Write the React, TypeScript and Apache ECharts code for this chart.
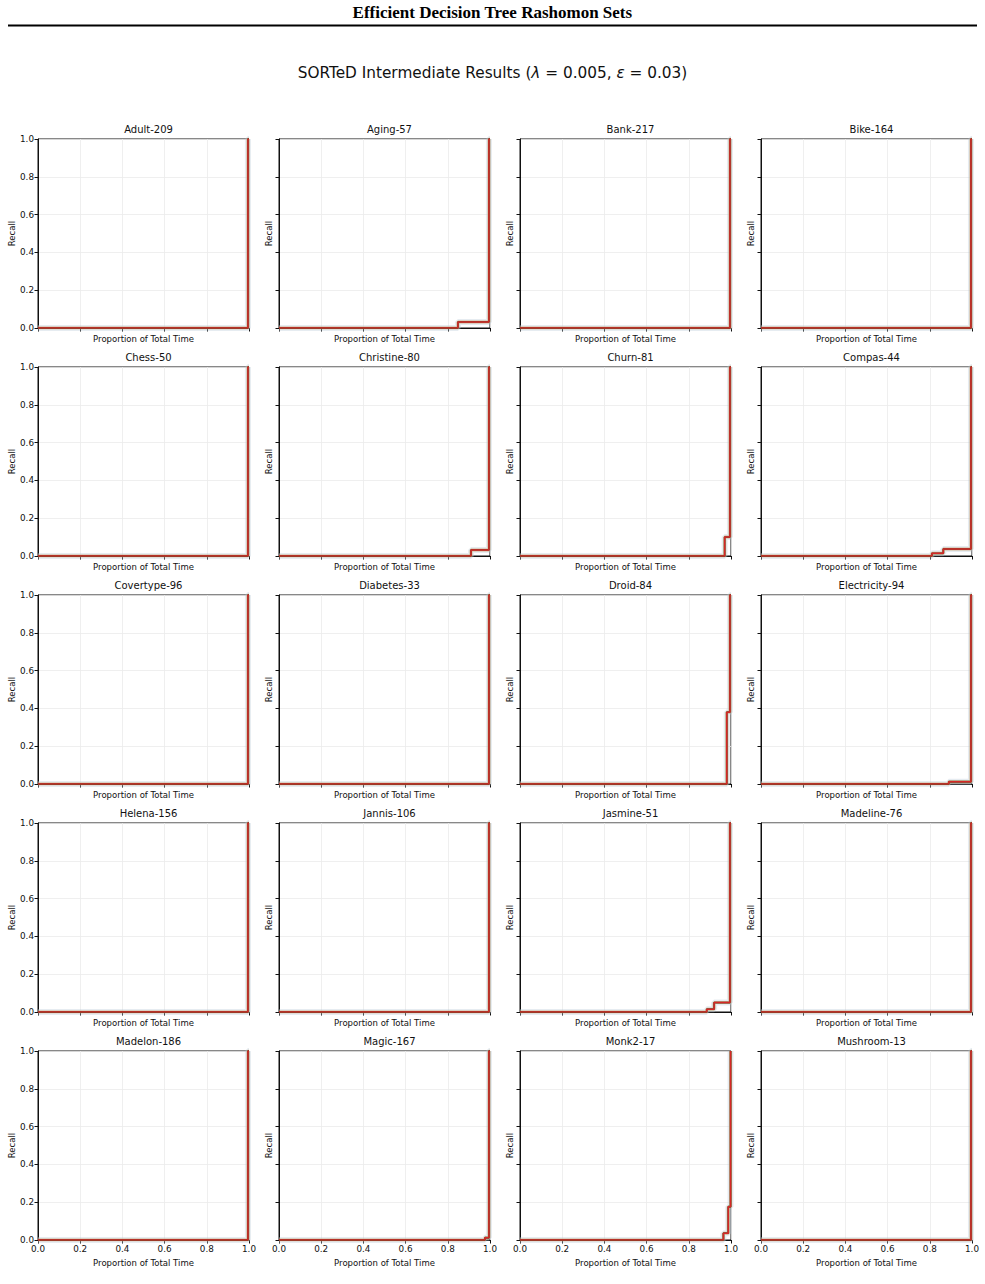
import React, { useEffect, useRef } from 'react';
import * as echarts from 'echarts';

// dataset panels, row by row
const datasets = [
  'Adult-209', 'Aging-57', 'Bank-217', 'Bike-164',
  'Chess-50', 'Christine-80', 'Churn-81', 'Compas-44',
  'Covertype-96', 'Diabetes-33', 'Droid-84', 'Electricity-94',
  'Helena-156', 'Jannis-106', 'Jasmine-51', 'Madeline-76',
  'Madelon-186', 'Magic-167', 'Monk2-17', 'Mushroom-13',
];

// [proportion of total time, recall] breakpoints (steps-post)
const recallSteps: number[][][] = [
  [[0, 0], [0.995, 1], [1, 1]],
  [[0, 0], [0.848, 0.032], [0.995, 1], [1, 1]],
  [[0, 0], [0.995, 1], [1, 1]],
  [[0, 0], [0.995, 1], [1, 1]],
  [[0, 0], [0.995, 1], [1, 1]],
  [[0, 0], [0.91, 0.032], [0.995, 1], [1, 1]],
  [[0, 0], [0.97, 0.1], [0.995, 1], [1, 1]],
  [[0, 0], [0.81, 0.014], [0.864, 0.037], [0.995, 1], [1, 1]],
  [[0, 0], [0.995, 1], [1, 1]],
  [[0, 0], [0.995, 1], [1, 1]],
  [[0, 0], [0.98, 0.38], [0.995, 1], [1, 1]],
  [[0, 0], [0.89, 0.012], [0.995, 1], [1, 1]],
  [[0, 0], [0.995, 1], [1, 1]],
  [[0, 0], [0.995, 1], [1, 1]],
  [[0, 0], [0.885, 0.015], [0.92, 0.05], [0.995, 1], [1, 1]],
  [[0, 0], [0.995, 1], [1, 1]],
  [[0, 0], [0.995, 1], [1, 1]],
  [[0, 0], [0.976, 0.012], [0.995, 1], [1, 1]],
  [[0, 0], [0.964, 0.036], [0.987, 0.176], [0.998, 1], [1, 1]],
  [[0, 0], [0.995, 1], [1, 1]],
];

const App: React.FC = () => {
  const chartRef: any = useRef();

  useEffect(() => {
    document.body.style.margin = '0';
    const chart = echarts.init(chartRef.current, null, { renderer: 'svg' });
    const font = 'DejaVu Sans';

    const grids: any[] = [];
    const xAxes: any[] = [];
    const yAxes: any[] = [];
    const titles: any[] = [];
    const series: any[] = [];

    // stacked step lines: faint band, tan, olive, red on top
    const layers = [
      { color: '#b8c8d8', width: 6, opacity: 0.35 },
      { color: '#c9aa80', width: 3, opacity: 0.8 },
      { color: '#4a4a20', width: 1.8, opacity: 0.9 },
      { color: '#d62728', width: 1.5, opacity: 1 },
    ];

    datasets.forEach((name, i) => {
      const row = Math.floor(i / 4);
      const col = i % 4;
      const left = 38 + col * 241;
      const top = 139 + row * 228;
      grids.push({
        left, top, width: 211, height: 189,
        show: true, borderColor: '#111', borderWidth: 1, backgroundColor: '#fff',
      });
      titles.push({
        text: name,
        left: left + 105.5,
        top: top - 20,
        textAlign: 'center',
        textStyle: { fontFamily: font, fontSize: 10, fontWeight: 'normal', color: '#111' },
      });
      const bottomRow = row === 4;
      xAxes.push({
        gridIndex: i, type: 'value', min: 0, max: 1, interval: 0.2,
        name: 'Proportion of Total Time', nameLocation: 'middle',
        nameGap: bottomRow ? 18 : 6,
        nameTextStyle: { fontFamily: font, fontSize: 8.5, color: '#111' },
        axisLine: { show: true, lineStyle: { color: '#111', width: 1 } },
        axisTick: { show: true, length: 3.5, lineStyle: { color: '#111' } },
        axisLabel: {
          show: bottomRow, fontFamily: font, fontSize: 8.8, color: '#111', margin: 4,
          formatter: (v: number) => v.toFixed(1),
        },
        splitLine: { show: true, lineStyle: { color: '#ebebeb', width: 0.8 } },
      });
      yAxes.push({
        gridIndex: i, type: 'value', min: 0, max: 1, interval: 0.2,
        name: 'Recall', nameLocation: 'middle',
        nameGap: col === 0 ? 21 : 6,
        nameTextStyle: { fontFamily: font, fontSize: 8.5, color: '#111' },
        axisLine: { show: true, lineStyle: { color: '#111', width: 1 } },
        axisTick: { show: true, length: 3.5, lineStyle: { color: '#111' } },
        axisLabel: {
          show: col === 0, fontFamily: font, fontSize: 8.8, color: '#111', margin: 4,
          formatter: (v: number) => v.toFixed(1),
        },
        splitLine: { show: true, lineStyle: { color: '#ebebeb', width: 0.8 } },
      });
      layers.forEach((l) => {
        series.push({
          type: 'line',
          xAxisIndex: i,
          yAxisIndex: i,
          step: 'end',
          data: recallSteps[i],
          showSymbol: false,
          symbol: 'none',
          silent: true,
          lineStyle: { color: l.color, width: l.width, opacity: l.opacity },
        });
      });
    });

    const option: any = {
      animation: false,
      backgroundColor: '#fff',
      title: titles,
      grid: grids,
      xAxis: xAxes,
      yAxis: yAxes,
      series,
      graphic: [
        {
          type: 'text', left: 'center', top: 4,
          style: {
            text: 'Efficient Decision Tree Rashomon Sets',
            font: 'bold 17px "Liberation Serif"', fill: '#000',
          },
        },
        {
          type: 'line',
          shape: { x1: 8, y1: 25.5, x2: 977, y2: 25.5 },
          style: { stroke: '#000', lineWidth: 2 },
        },
        {
          type: 'text', left: 'center', top: 65,
          style: {
            text: 'SORTeD Intermediate Results ({i|λ} = 0.005, {i|ε} = 0.03)',
            font: '15.3px "DejaVu Sans"', fill: '#111',
            rich: {
              i: { fontFamily: 'DejaVu Sans', fontSize: 15.3, fontStyle: 'italic', fill: '#111' },
            },
          },
        },
      ],
    };
    chart.setOption(option);
    return () => {
      chart.dispose();
    };
  }, []);

  return <div ref={chartRef} style={{ width: 985, height: 1284 }}></div>;
};

export default App;
